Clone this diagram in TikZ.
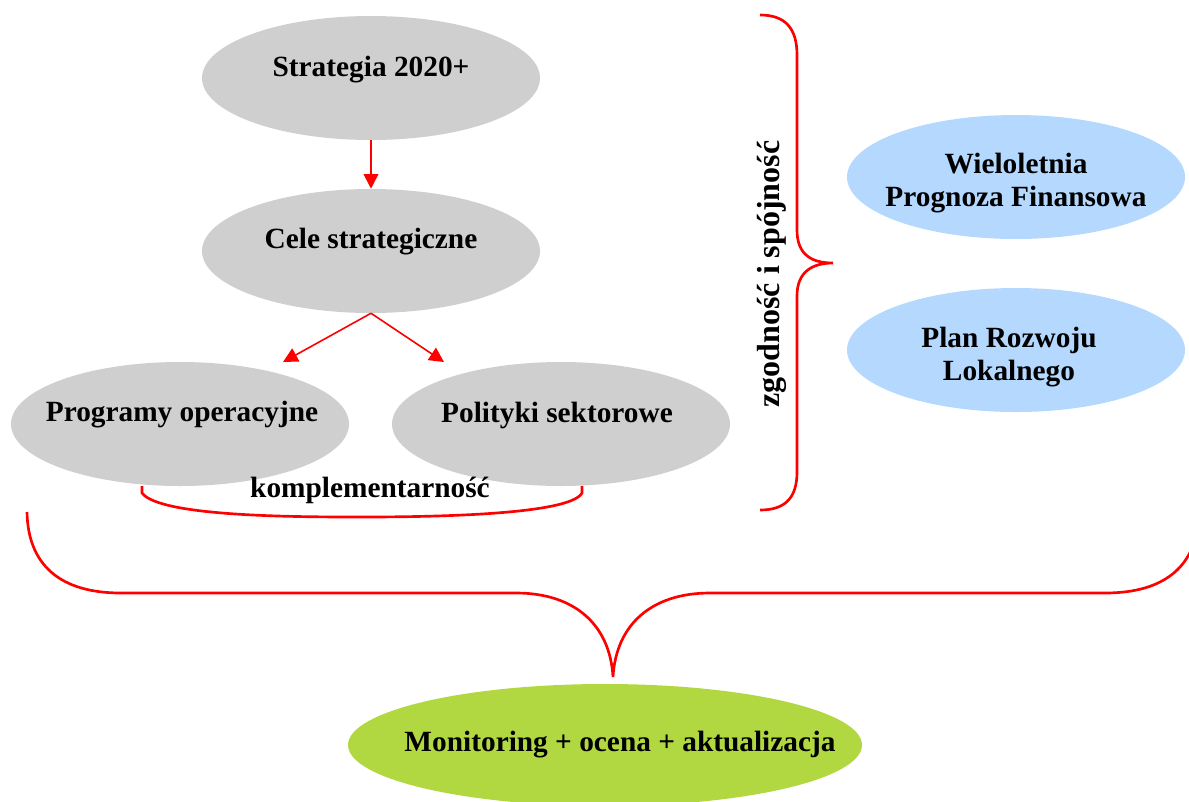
\documentclass[tikz,border=0pt]{standalone}
\usepackage{fontspec}
\setmainfont{Liberation Serif}
\usetikzlibrary{shapes.geometric,arrows.meta}
\definecolor{elgray}{RGB}{207,207,207}
\definecolor{elblue}{RGB}{180,216,254}
\definecolor{elgreen}{RGB}{178,216,65}
\begin{document}
\begin{tikzpicture}[x=0.75pt,y=-0.75pt,
    ell/.style={ellipse, inner sep=0pt, minimum width=253.5pt, minimum height=93pt},
    grayell/.style={ell, fill=elgray},
    blueell/.style={ell, fill=elblue},
    lbl/.style={align=center, font=\fontsize{22}{25}\selectfont\bfseries},
    arr/.style={red, line width=1.2pt, -{Triangle[length=11pt,width=11pt]}},
    brace/.style={red, line width=2pt}]
        \useasboundingbox (0,0) rectangle (1189,801);
        % ellipses
        \node[grayell] (strat) at (371,78) {};
        \node[grayell] (cele) at (371,251) {};
        \node[grayell] (prog) at (180,424) {};
        \node[grayell] (pol) at (561,424) {};
        \node[blueell] (wpf) at (1016,177) {};
        \node[blueell] (prl) at (1016,350) {};
        \node[ell, fill=elgreen, minimum width=385.5pt, minimum height=91.5pt] (mon) at (605,745) {};

        \node[lbl] (strat-t) at (371,70) {Strategia 2020+};
        \node[lbl] (cele-t) at (371,242) {Cele strategiczne};
        \node[lbl] (prog-t) at (182,415) {Programy operacyjne};
        \node[lbl] (pol-t) at (557,415) {Polityki sektorowe};
        \node[lbl] (wpf-t) at (1016,183) {Wieloletnia\\Prognoza Finansowa};
        \node[lbl] (prl-t) at (1009,357) {Plan Rozwoju\\Lokalnego};
        \node[lbl] (mon-t) at (620,745) {Monitoring + ocena + aktualizacja};

        % arrows
        \coordinate (progtip) at (283,362);
        \coordinate (poltip) at (444,362);
        \draw[arr] (strat.south) -- (cele.north);
        \draw[arr] (cele.south) -- (progtip);
        \draw[arr] (cele.south) -- (poltip);

        % komplementarnosc
        \draw[brace] (142,486) -- (142,493) .. controls (160,517) and (300,517) .. (362,517)
            .. controls (430,517) and (570,515) .. (582,493) -- (582,486);
        \node[lbl] (kompl) at (370,490) {komplementarność};

        % zgodnosc i spojnosc
        \draw[brace] (760,15) .. controls (785,15) and (797,28) .. (797,55) -- (797,230)
            .. controls (797,255) and (812,263) .. (833,263)
            .. controls (812,263) and (797,272) .. (797,296) -- (797,472)
            .. controls (797,498) and (785,510) .. (760,510);
        \node[lbl, font=\fontsize{24}{28}\selectfont\bfseries, rotate=90] (zgod) at (772,274) {zgodność i spójność};

        % big brace
        \coordinate (montip) at (613,677);
        \draw[brace] (27,512) .. controls (28,565) and (60,593) .. (121,593) -- (516,593)
            .. controls (575,593) and (610,625) .. (montip)
            .. controls (616,625) and (651,593) .. (710,593) -- (1105,593)
            .. controls (1166,593) and (1198,565) .. (1199,512);
    \end{tikzpicture}
\end{document}
